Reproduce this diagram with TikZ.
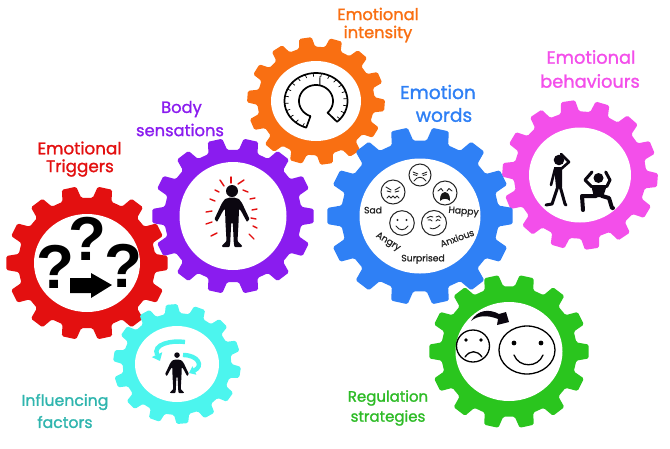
\documentclass[tikz,border=0pt]{standalone}
\usepackage{fontspec}
\setmainfont{Poppins}
\newfontfamily\medfont{Poppins}[FakeBold=1.4]
\newfontfamily\feelfont{Poppins}[FakeBold=1.2]
\newfontfamily\qfont{Liberation Sans}
\definecolor{cred}{HTML}{E31010}
\definecolor{cpurple}{HTML}{8A1CEF}
\definecolor{corange}{HTML}{F96F12}
\definecolor{cblue}{HTML}{2F80F5}
\definecolor{cpink}{HTML}{F34FEA}
\definecolor{cgreen}{HTML}{2AC51E}
\definecolor{ccyan}{HTML}{4CF5EE}
\definecolor{tcyan}{HTML}{2FB5AE}
\definecolor{tgreen}{HTML}{2DBB26}
\definecolor{tink}{HTML}{0B0710}
\newcommand\drawgear[9]{%
 % cx cy rx ry offset colour holerx holery name
 \fill[#6,rounded corners=1.5pt]
  ({#1+#3*.85*cos(#5-8)},{#2+#4*.85*sin(#5-8)})
  \foreach[evaluate=\k as \a using #5+25.714*\k] \k in {0,...,13}{
   -- ({#1+#3*.85*cos(\a-8)},{#2+#4*.85*sin(\a-8)})
   -- ({#1+#3*cos(\a-5.2)},{#2+#4*sin(\a-5.2)})
   -- ({#1+#3*cos(\a+5.2)},{#2+#4*sin(\a+5.2)})
   -- ({#1+#3*.85*cos(\a+8)},{#2+#4*.85*sin(\a+8)})
  } -- cycle;
 \node[ellipse hole,minimum width=#7*2pt,minimum height=#8*2pt] (#9) at (#1,#2) {};
}
\newcommand\drawperson[3]{%
 \begin{scope}[shift={(#1,#2)},scale=#3]
  \fill[tink] (0,6) circle[radius=#3*6pt];
  \fill[tink,rounded corners=.8pt] (2,12.5) -- (7,14) -- (10,18) -- (17.5,34) -- (15,37) -- (8.5,25) -- (7,24) -- (6.5,38) -- (5.5,56) -- (10,60.5) -- (10,62) -- (2.5,62) -- (1.8,58) -- (.8,38) -- (-.8,38) -- (-1.8,58) -- (-2.5,62) -- (-10,62) -- (-10,60.5) -- (-5.5,56) -- (-6.5,38) -- (-7,24) -- (-8.5,25) -- (-15,37) -- (-17.5,34) -- (-10,18) -- (-7,14) -- (-2,12.5) -- cycle;
 \end{scope}}
\tikzset{
 ellipse hole/.style={shape=ellipse,fill=white,inner sep=0pt,draw=none},
 title/.style={font=\medfont\fontsize{#1}{#1}\selectfont,inner sep=0pt,anchor=center},
 feel/.style={font=\feelfont\fontsize{9.2}{10}\selectfont,text=black!85,inner sep=0pt},
 qmark/.style={font=\qfont\bfseries\fontsize{62}{62}\selectfont,text=black,inner sep=0pt},
 facering/.style={draw=black!85,line width=1pt},
 faceline/.style={draw=black!85,line width=.9pt,line cap=round},
 spark/.style={draw=cred,line width=1.4pt,line cap=round},
 swirl/.style={draw=ccyan,line width=4.4pt},
 limb/.style={draw=tink,line cap=round,line join=round},
}
\usetikzlibrary{shapes.geometric,arrows.meta}
\begin{document}
\begin{tikzpicture}[x=1pt,y=-1pt]
\useasboundingbox (0,0) rectangle (670,448);
% gears, back to front
\drawgear{316}{101}{69}{64}{4}{corange}{45}{40}{holeorange}
\drawgear{233}{216}{81}{78}{0}{cpurple}{53.5}{54}{holepurple}
\drawgear{87}{263}{81}{77}{0}{cred}{53}{49}{holered}
\drawgear{177}{364}{64}{60}{8}{ccyan}{42}{38}{holecyan}
\drawgear{580}{175}{78}{75}{4}{cpink}{51}{47.5}{holepink}
\drawgear{420}{216}{93}{89}{0}{cblue}{60.5}{57.5}{holeblue}
\drawgear{509}{351.5}{80}{77}{0}{cgreen}{53.5}{49.5}{holegreen}
% gauge
\draw[black,line width=1.7pt,line join=round]
 plot[domain=108:408,samples=70] ({316+31.5*cos(\x)},{101+28*sin(\x)})
 -- plot[domain=407:109,samples=60] ({316+17*cos(\x)},{101+16*sin(\x)}) -- cycle;
\foreach \t in {115,130,...,400}
 \draw[black,line width=.7pt] ({316+31*cos(\t)},{101+27.5*sin(\t)}) -- ({316+27.5*cos(\t)},{101+24.5*sin(\t)});
\draw[black,line width=.9pt] ({316+17*cos(283)},{101+16*sin(283)}) -- ({316+31*cos(283)-3},{101+27.5*sin(283)+2});
% body sensations
\drawperson{232}{185}{1}
\foreach \xa/\ya/\xb/\yb in {231/177/231/183,220/180/224/186,244/180/238/184,215/190/219/192,248/192/243/190,210/199/215/201,250/199/255/198,206/212/212/211,252/210/257/209,206/224/212/222,251/218/256/219,211/236/217/233,253/226/257/228,249/234/254/239}
 \draw[spark] (\xa,\ya) -- (\xb,\yb);
% emotional triggers
\node[qmark] (qa) at (55,267) {?};
\node[qmark] (qb) at (87,239) {?};
\node[qmark] (qc) at (123,266) {?};
\fill[black] (70,278) -- (91,278) -- (91,273) -- (112,285) -- (91,298) -- (91,293) -- (70,293) -- cycle;
% influencing factors
\draw[swirl,-{Triangle[length=7pt,width=11pt]}] (185,342) .. controls (172,340) and (152,344) .. (160,361);
\draw[swirl,-{Triangle[length=6pt,width=9pt]}] (183,355) .. controls (198,355) and (204,366) .. (189,373);
\drawperson{177}{351}{.68}
% emotional behaviours
\fill[tink] (559,160) circle[radius=5.3pt];
\fill[tink] (554,167) -- (562,167) -- (562,187) -- (556,187) -- cycle;
\draw[limb,line width=2.6pt] (561,169) -- (569,162) -- (561,154);
\draw[limb,line width=2.6pt] (555,169) -- (551,185);
\draw[limb,line width=3pt] (558,186) -- (552,204) -- (546,205);
\draw[limb,line width=3pt] (560,186) -- (565,204) -- (566,205);
\fill[tink] (598.5,178) circle[radius=5pt];
\fill[tink] (591,185) -- (607,185) -- (603,197) -- (594,197) -- cycle;
\draw[limb,line width=3pt] (591.7,186.7) -- (585,180) -- (592,172);
\draw[limb,line width=3pt] (606.7,186.7) -- (610,180) -- (605.7,172);
\draw[limb,line width=4pt] (596,196) -- (582,196) -- (583,210);
\draw[limb,line width=4pt] (602,196) -- (609,198) -- (612,208) -- (613,208);
% regulation strategies
\draw[black,line width=1.3pt] (473,346) circle[x radius=16.5pt,y radius=16pt];
\fill[black] (466,340) circle[radius=1.8pt] (481,340) circle[radius=1.8pt];
\draw[black,line width=1.3pt,line cap=round] (465,357) .. controls (470,350) and (477,350) .. (482,357);
\draw[black,line width=1.3pt] (527,350) circle[x radius=28pt,y radius=24pt];
\fill[black] (514,343) circle[radius=2.4pt] (541,343) circle[radius=2.4pt];
\draw[black,line width=1.3pt,line cap=round] (514,355) .. controls (519,368) and (538,368) .. (543,355);
\fill[tink] (471,321) .. controls (478,309) and (490,309) .. (499,314) -- (506,312) -- (509,322) -- (497,325) -- (498,319) .. controls (488,315) and (478,315) .. cycle;
% emotion faces
\begin{scope}[shift={(420,175)}]
 \draw[facering] (0,0) circle[radius=11pt];
 \draw[faceline] (-7,-3) -- (-2,-1) (7,-3) -- (2,-1) (-6,6) .. controls (-3,1) and (3,1) .. (6,6) (-6.5,-.5) -- (-3,.5) (6.5,-.5) -- (3,.5);
\end{scope}
\begin{scope}[shift={(393,192)}]
 \draw[facering] (0,0) circle[radius=12pt];
 \draw[faceline] (-7,-5) -- (-2,-2) (7,-5) -- (2,-2) (-6,-1) -- (-2,0) (6,-1) -- (2,0) (-6,6) -- (-4,4) -- (-2,6) -- (0,4) -- (2,6) -- (4,4) -- (6,6);
\end{scope}
\begin{scope}[shift={(445,193)}]
 \draw[facering] (0,0) circle[radius=12pt];
 \draw[faceline] (-7,-2) -- (-4,-4.5) -- (-2,-2) (7,-2) -- (4,-4.5) (4,-4.5) -- (2,-2);
 \fill[black!90] (-5,8) .. controls (-5,0) and (-2,-1) .. (0,-1) .. controls (2,-1) and (5,0) .. (5,8) .. controls (2,5) and (-2,5) .. cycle;
\end{scope}
\begin{scope}[shift={(402,223)}]
 \draw[facering] (0,0) circle[radius=12.3pt];
 \fill[black!85] (-4.5,-3) circle[radius=1.2pt] (4.5,-3) circle[radius=1.2pt];
 \draw[faceline] (-6,3) .. controls (-3,8) and (3,8) .. (6,3);
\end{scope}
\begin{scope}[shift={(434,223)}]
 \draw[facering] (0,0) circle[radius=12.5pt];
 \draw[faceline] (-7,-5) .. controls (-5,-7) and (-2,-7) .. (-1,-6) (2,-6) .. controls (4,-8) and (6,-7) .. (7,-5) (-6,-3) .. controls (-4,-4) and (-3,-3) .. (-2,-2) (6,-2.5) .. controls (4,-4) and (3,-3.5) .. (2,-2) (-4,5) .. controls (-1,7) and (3,5) .. (6,2);
\end{scope}
\node[feel] (lsad) at (373,210) {Sad};
\node[feel,rotate=-5] (lhappy) at (463.5,212) {Happy};
\node[feel,rotate=20] (lanx) at (457,238) {Anxious};
\node[feel] (lsur) at (423,259) {Surprised};
\node[feel,rotate=-32] (lang) at (388,242) {Angry};
% titles
\node[title=16.8,text=cred] (ta) at (79.5,148) {Emotional};
\node[title=16.8,text=cred] (tb) at (80,168) {Triggers};
\node[title=16.3,text=cpurple] (tc) at (181.5,109) {Body};
\node[title=16.3,text=cpurple] (td) at (180,130) {sensations};
\node[title=16.3,text=corange] (te) at (378,14) {Emotional};
\node[title=16.3,text=corange] (tf) at (378,34) {intensity};
\node[title=18.6,text=cblue] (tg) at (438,92) {Emotion};
\node[title=18.6,text=cblue] (th) at (444,115) {words};
\node[title=17.8,text=cpink] (ti) at (591,57) {Emotional};
\node[title=17.8,text=cpink] (tj) at (590,81) {behaviours};
\node[title=15.7,text=tcyan] (tk) at (65,402) {Influencing};
\node[title=15.7,text=tcyan] (tl) at (65,422) {factors};
\node[title=15,text=tgreen] (tm) at (388,398) {Regulation};
\node[title=15,text=tgreen] (tn) at (388,418) {strategies};
\end{tikzpicture}
\end{document}
